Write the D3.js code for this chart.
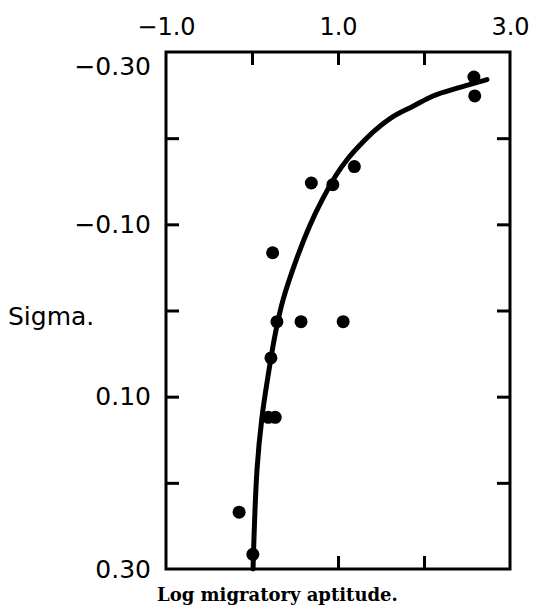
<!DOCTYPE html>
<html>
<head>
<meta charset="utf-8">
<script src="https://cdn.jsdelivr.net/npm/d3@7"></script>
<style>
  body { margin: 0; background: #fff; }
  svg { display: block; }
</style>
</head>
<body>
<script>
// points: log migratory aptitude vs sigma
const aptitude = [2.58, 2.59, 1.19, 0.94, 0.69, 0.24, 0.29, 0.57, 1.06, 0.22, 0.19, 0.27, -0.15, 0.01];
const sigma = [-0.271, -0.249, -0.167, -0.146, -0.148, -0.067, 0.013, 0.013, 0.013, 0.055, 0.124, 0.124, 0.234, 0.283];

// hand-drawn fitted curve
const curveX = [0.012, 0.058, 0.116, 0.221, 0.279, 0.36, 0.523, 0.674, 0.814, 0.977, 1.105, 1.256, 1.43, 1.64, 1.872, 2.105, 2.419, 2.733];
const curveY = [0.300, 0.185, 0.124, 0.055, 0.023, -0.012, -0.061, -0.099, -0.128, -0.157, -0.175, -0.192, -0.209, -0.225, -0.237, -0.249, -0.259, -0.268];

const xLabels = [-1, 1, 3];
const xTicks = [0, 1, 2];
const yLabels = [-0.3, -0.1, 0.1, 0.3];
const yTicks = [-0.2, -0.1, 0, 0.1, 0.2];

const width = 537;
const height = 606;
const margin = { top: 52, right: 27, bottom: 37, left: 166 };

const svg = d3
  .select("body")
  .append("svg")
  .attr("width", width)
  .attr("height", height);

const xScale = d3.scaleLinear().domain([-1, 3]).range([margin.left, width - margin.right]);
const yScale = d3.scaleLinear().domain([-0.3, 0.3]).range([margin.top, height - margin.bottom]);

const tickLen = 13;

// inward ticks on all four sides
svg.append("g")
  .attr("transform", `translate(0, ${margin.top})`)
  .call(d3.axisTop(xScale).tickValues(xTicks).tickSize(-tickLen).tickFormat(""));
svg.append("g")
  .attr("transform", `translate(0, ${height - margin.bottom})`)
  .call(d3.axisBottom(xScale).tickValues(xTicks).tickSize(-tickLen).tickFormat(""));
svg.append("g")
  .attr("transform", `translate(${margin.left}, 0)`)
  .call(d3.axisLeft(yScale).tickValues(yTicks).tickSize(-tickLen).tickFormat(""));
svg.append("g")
  .attr("transform", `translate(${width - margin.right}, 0)`)
  .call(d3.axisRight(yScale).tickValues(yTicks).tickSize(-tickLen).tickFormat(""));

svg.selectAll(".tick line").attr("stroke", "#000").attr("stroke-width", 3);
svg.selectAll(".domain").remove();

// labels
const topLabels = svg.append("g")
  .attr("transform", `translate(0, ${margin.top})`)
  .call(d3.axisTop(xScale).tickValues(xLabels).tickSize(0).tickPadding(17).tickFormat(d3.format(".1f")));
topLabels.select(".domain").remove();
topLabels.selectAll("text")
  .style("font-family", "DejaVu Sans")
  .style("font-size", "24px")
  .attr("fill", "#000");

const leftLabels = svg.append("g")
  .attr("transform", `translate(${margin.left}, 0)`)
  .call(d3.axisLeft(yScale).tickValues(yLabels).tickSize(0).tickPadding(15).tickFormat(d3.format(".2f")));
leftLabels.select(".domain").remove();
leftLabels.selectAll("text")
  .style("font-family", "DejaVu Sans")
  .style("font-size", "25px")
  .attr("fill", "#000")
  .attr("y", (d) => (d === -0.3 ? 14 : 0));

// frame
svg.append("rect")
  .attr("x", margin.left)
  .attr("y", margin.top)
  .attr("width", width - margin.left - margin.right)
  .attr("height", height - margin.top - margin.bottom)
  .attr("fill", "none")
  .attr("stroke", "#000")
  .attr("stroke-width", 3);

// fitted curve
const line = d3.line()
  .x((d, i) => xScale(curveX[i]))
  .y((d) => yScale(d))
  .curve(d3.curveCatmullRom.alpha(0.5));

svg.append("path")
  .attr("d", line(curveY))
  .attr("fill", "none")
  .attr("stroke", "#000")
  .attr("stroke-width", 5)
  .attr("stroke-linecap", "round");

svg.selectAll(".dot")
  .data(sigma)
  .enter()
  .append("circle")
  .attr("class", "dot")
  .attr("cx", (d, i) => xScale(aptitude[i]))
  .attr("cy", (d) => yScale(d))
  .attr("r", 6.5)
  .attr("fill", "#000");

svg.append("text")
  .attr("x", 8)
  .attr("y", 325)
  .style("font-family", "DejaVu Sans")
  .style("font-size", "25px")
  .text("Sigma.");

svg.append("text")
  .attr("x", 157)
  .attr("y", 601)
  .style("font-family", "DejaVu Serif")
  .style("font-size", "18px")
  .style("font-weight", "bold")
  .text("Log migratory aptitude.");
</script>
</body>
</html>
